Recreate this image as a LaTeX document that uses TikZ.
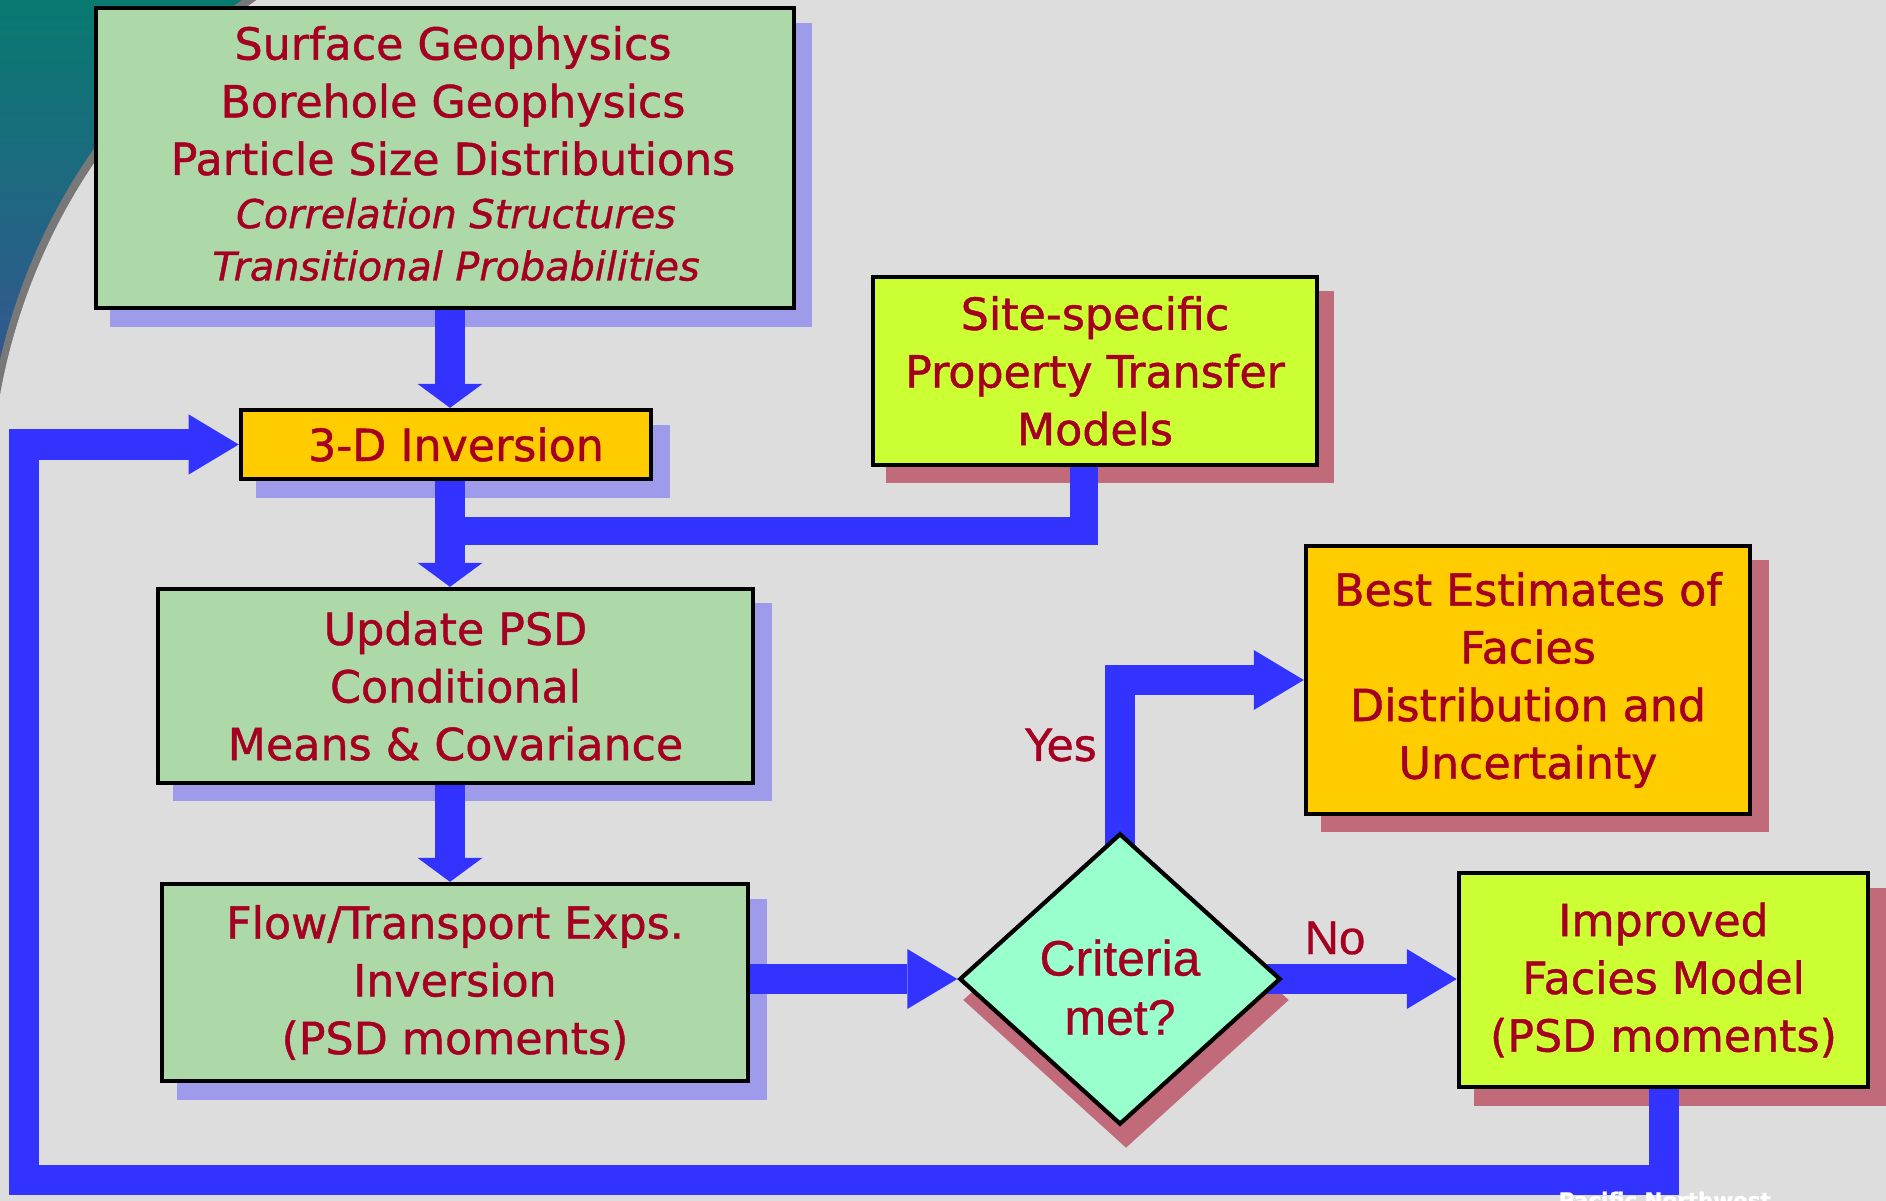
\documentclass[tikz,border=0pt]{standalone}
\usepackage{fontspec}
\setmainfont{DejaVu Sans}[FakeBold=1.0]
\newfontfamily\arialfont{Liberation Sans}[FakeBold=0.6]
\usetikzlibrary{arrows.meta,shapes.geometric,calc}

\pgfdeclarelayer{base}
\pgfdeclarelayer{shade}
\pgfdeclarelayer{flow}
\pgfsetlayers{base,shade,flow,main}

\definecolor{bggray}{RGB}{221,221,221}
\definecolor{textred}{RGB}{165,0,33}
\definecolor{boxgreen}{RGB}{173,216,168}
\definecolor{boxgold}{RGB}{255,204,0}
\definecolor{boxlime}{RGB}{204,255,51}
\definecolor{boxmint}{RGB}{153,255,204}
\definecolor{flowblue}{RGB}{51,51,255}
\definecolor{shadeblue}{RGB}{158,155,234}
\definecolor{shadered}{RGB}{192,106,122}
\definecolor{cornerteal}{RGB}{8,122,112}
\definecolor{cornerblue}{RGB}{58,82,148}
\definecolor{rimgray}{RGB}{120,120,120}

\begin{document}
\begin{tikzpicture}[x=0.01cm,y=-0.01cm]
\tikzset{BoxStyle/.style = {shape=rectangle, draw=black, line width=1.2pt,
                            text=textred, align=center, inner sep=0pt,
                            font=\fontsize{12.6}{16.4}\selectfont}
  }
\tikzset{FlowStyle/.style = {draw=flowblue, line width=0.3cm}}
\tikzset{DownStyle/.style = {FlowStyle, -{Triangle[length=0.24cm, width=0.65cm, line width'=0pt]}}}
\tikzset{SideStyle/.style = {FlowStyle, -{Triangle[length=0.5cm, width=0.6cm, line width'=0pt]}}}
\tikzset{LabelStyle/.style = {text=textred, inner sep=0pt}}

\useasboundingbox (0,0) rectangle (1886,1201);
\begin{pgfonlayer}{base}
\fill[bggray] (0,0) rectangle (1886,1201);
\begin{scope}
\clip (0,0) rectangle (330,420);
\shade[top color=cornerteal, bottom color=cornerblue] (0,0) rectangle (330,420);
\fill[rimgray] (591,496) circle[radius=6.06cm];
\end{scope}
\fill[bggray] (597,502) circle[radius=6.06cm];
\end{pgfonlayer}

\node[BoxStyle, fill=boxgreen, minimum width=6.98cm, minimum height=3cm] (src) at (445,158)
  {\hspace*{0.16cm}Surface Geophysics\\\hspace*{0.16cm}Borehole Geophysics\\
   \hspace*{0.16cm}Particle Size Distributions\\[-1.3pt]
   {\fontsize{11.3}{14.5}\selectfont\itshape\hspace*{0.22cm}Correlation Structures}\\[-1.5pt]
   {\fontsize{11.3}{14.5}\selectfont\itshape\hspace*{0.22cm}Transitional Probabilities}\rule[-2.7pt]{0pt}{0pt}};
\node[BoxStyle, fill=boxgold, minimum width=4.10cm, minimum height=0.69cm] (inv) at (446,444.5)
  {\hspace*{0.2cm}3-D Inversion};
\node[BoxStyle, fill=boxlime, minimum width=4.44cm, minimum height=1.88cm] (site) at (1095,371)
  {Site-specific\\Property Transfer\\Models};
\node[BoxStyle, fill=boxgreen, minimum width=5.95cm, minimum height=1.94cm] (upd) at (455.5,686)
  {Update PSD\\Conditional\\Means \& Covariance};
\node[BoxStyle, fill=boxgreen, minimum width=5.86cm, minimum height=1.97cm] (flow) at (455,982.5)
  {Flow/Transport Exps.\\Inversion\\(PSD moments)};
\node[BoxStyle, shape=diamond, fill=boxmint, minimum width=3.21cm, minimum height=2.91cm,
      font=\arialfont\fontsize{14.2}{16.8}\selectfont] (crit) at (1120,979) {\rule{0pt}{15pt}Criteria\\met?};
\node[BoxStyle, fill=boxgold, minimum width=4.44cm, minimum height=2.68cm] (best) at (1528,680)
  {Best Estimates of\\Facies\\Distribution and\\Uncertainty};
\node[BoxStyle, fill=boxlime, minimum width=4.09cm, minimum height=2.14cm] (imp) at (1663.5,980)
  {Improved\\Facies Model\\(PSD moments)};

\node[LabelStyle, font=\fontsize{12.6}{16}\selectfont] (yes) at (1061,745) {Yes};
\node[LabelStyle, font=\arialfont\fontsize{13.5}{16}\selectfont] (no) at (1335,938) {No};
\node[text=white, anchor=base west, inner sep=0pt, font=\bfseries\fontsize{6.1}{7}\selectfont] (lab) at (1558,1208) {Pacific Northwest};

\begin{pgfonlayer}{shade}
\fill[shadeblue] ([shift={(16,17)}]src.north west) rectangle ([shift={(16,17)}]src.south east);
\fill[shadeblue] ([shift={(17,17)}]inv.north west) rectangle ([shift={(17,17)}]inv.south east);
\fill[shadeblue] ([shift={(17,16)}]upd.north west) rectangle ([shift={(17,16)}]upd.south east);
\fill[shadeblue] ([shift={(17,17)}]flow.north west) rectangle ([shift={(17,17)}]flow.south east);
%-----------------------------
\fill[shadered] ([shift={(15,16)}]site.north west) rectangle ([shift={(15,16)}]site.south east);
\fill[shadered] ([shift={(17,16)}]best.north west) rectangle ([shift={(17,16)}]best.south east);
\fill[shadered] ([shift={(17,17)}]imp.north west) rectangle ([shift={(17,17)}]imp.south east);
\fill[shadered] ([shift={(6,21)}]crit.north) -- ([shift={(6,21)}]crit.east)
  -- ([shift={(6,21)}]crit.south) -- ([shift={(6,21)}]crit.west) -- cycle;
\end{pgfonlayer}

\begin{pgfonlayer}{flow}
\coordinate (spine) at ($(inv.south)+(4,0)$);
\draw[DownStyle] (src.south -| spine) -- (inv.north -| spine);
\draw[DownStyle] (spine) -- (spine |- upd.north);
\coordinate (join) at ($(spine)!0.47!(spine |- upd.north)$);
\draw[FlowStyle, line width=0.28cm] ([xshift=-0.11cm]site.center) |- (join);
%-----------------------------
\draw[DownStyle] (upd.south -| spine) -- (flow.north -| spine);
\draw[SideStyle] (flow.east |- crit.west) -- (crit.west);
%-----------------------------
\draw[SideStyle] (crit.center) |- (best.west);
\draw[SideStyle] (crit.center) -- (crit.center -| imp.west);
%-----------------------------
\coordinate (bend) at (24,1180);
\draw[SideStyle] (imp.center) |- (bend) |- (inv.west);
\end{pgfonlayer}

\end{tikzpicture}
\end{document}
